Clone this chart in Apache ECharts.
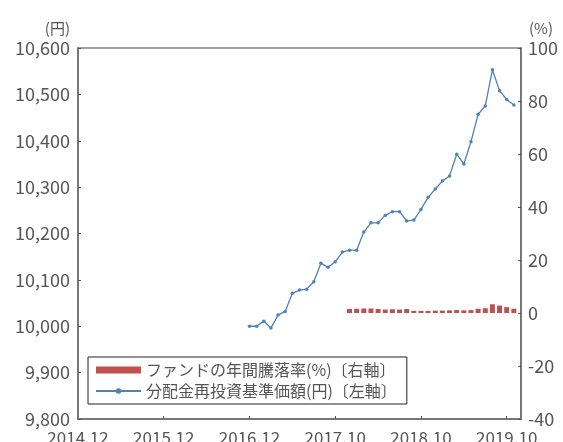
<!DOCTYPE html>
<html>
<head>
<meta charset="utf-8">
<script src="https://cdn.jsdelivr.net/npm/echarts@6/dist/echarts.min.js"></script>
<style>
html,body{margin:0;padding:0;background:#fff;}
#c{width:563px;height:442px;}
</style>
</head>
<body>
<div id="c"></div>
<script>
const months = [
 '2014.12','2015.01','2015.02','2015.03','2015.04','2015.05','2015.06','2015.07','2015.08','2015.09','2015.10','2015.11',
 '2015.12','2016.01','2016.02','2016.03','2016.04','2016.05','2016.06','2016.07','2016.08','2016.09','2016.10','2016.11',
 '2016.12','2017.01','2017.02','2017.03','2017.04','2017.05','2017.06','2017.07','2017.08','2017.09','2017.10','2017.11',
 '2017.12','2018.01','2018.02','2018.03','2018.04','2018.05','2018.06','2018.07','2018.08','2018.09','2018.10','2018.11',
 '2018.12','2019.01','2019.02','2019.03','2019.04','2019.05','2019.06','2019.07','2019.08','2019.09','2019.10','2019.11',
 '2019.12','2020.01','2020.02'
];
const tickLabels = ['2014.12','2015.12','2016.12','2017.10','2018.10','2019.10'];

// 分配金再投資基準価額 (円), left axis
const navValues = [
 '-','-','-','-','-','-','-','-','-','-','-','-',
 '-','-','-','-','-','-','-','-','-','-','-','-',
 10000,10000,10011,9996,10024,10032,10071,10078,10080,10096,10136,10127,
 10139,10160,10164,10164,10203,10223,10223,10239,10247,10247,10227,10229,
 10252,10278,10296,10313,10324,10371,10350,10398,10457,10475,10553,10508,
 10489,10477,'-'
];

// ファンドの年間騰落率 (%), right axis
const returnValues = [
 '-','-','-','-','-','-','-','-','-','-','-','-',
 '-','-','-','-','-','-','-','-','-','-','-','-',
 '-','-','-','-','-','-','-','-','-','-','-','-',
 '-','-',1.5,1.6,1.7,1.7,1.5,1.3,1.4,1.3,1.5,0.8,
 0.8,0.8,0.9,0.9,1.0,1.1,1.0,1.1,1.6,1.8,3.3,2.8,
 2.2,1.6,'-'
];

const FONT = '"Noto Sans CJK JP", "Noto Sans", sans-serif';
const TXT = '#555';

const chart = echarts.init(document.getElementById('c'));
chart.setOption({
  animation: false,
  textStyle: { fontFamily: FONT },
  grid: { left: 78, right: 42, top: 48, bottom: 23, containLabel: false, outerBoundsMode: 'none',
          show: true, borderColor: '#444', borderWidth: 1, backgroundColor: 'transparent' },
  legend: {
    orient: 'vertical',
    left: 88, top: 357,
    itemWidth: 45, itemHeight: 7, itemGap: 5,
    padding: [5, 10, 5, 7],
    borderColor: '#222', borderWidth: 1,
    textStyle: { fontFamily: FONT, fontSize: 16, color: TXT },
    data: [
      { name: 'ファンドの年間騰落率(%)〔右軸〕', icon: 'rect' },
      { name: '分配金再投資基準価額(円)〔左軸〕' }
    ]
  },
  xAxis: {
    type: 'category',
    data: months,
    boundaryGap: false,
    axisLine: { onZero: false, lineStyle: { color: '#777', width: 2 } },
    axisTick: { inside: true, length: 3, lineStyle: { color: '#555' }, interval: (i) => i % 12 === 0 && i > 0 },
    axisLabel: {
      interval: (i) => i % 12 === 0,
      formatter: (v, i) => tickLabels[Math.round(i / 12)],
      color: TXT, fontSize: 17, margin: 10, fontFamily: FONT
    },
    splitLine: { show: false }
  },
  yAxis: [
    {
      type: 'value', min: 9800, max: 10600, interval: 100,
      name: '(円)', nameGap: 12,
      nameTextStyle: { color: TXT, fontSize: 15, align: 'right', padding: [0, 8, 0, 0], fontFamily: FONT },
      axisLine: { show: true, lineStyle: { color: '#777', width: 2 } },
      axisTick: { show: true, inside: true, length: 3, lineStyle: { color: '#555' } },
      axisLabel: { color: TXT, fontSize: 18, margin: 8, fontFamily: FONT,
        formatter: (v) => String(v).replace(/\B(?=(\d{3})+(?!\d))/g, ',') },
      splitLine: { show: false }
    },
    {
      type: 'value', min: -40, max: 100, interval: 20,
      name: '(%)', nameGap: 12,
      nameTextStyle: { color: TXT, fontSize: 15, align: 'left', padding: [0, 0, 0, 8], fontFamily: FONT },
      axisLine: { show: true, lineStyle: { color: '#777', width: 2 } },
      axisTick: { show: true, inside: true, length: 3, lineStyle: { color: '#555' } },
      axisLabel: { color: TXT, fontSize: 18, margin: 7, fontFamily: FONT },
      splitLine: { show: false }
    }
  ],
  series: [
    {
      name: 'ファンドの年間騰落率(%)〔右軸〕',
      type: 'bar', yAxisIndex: 1,
      data: returnValues,
      barWidth: 5,
      itemStyle: { color: '#c0504d' }
    },
    {
      name: '分配金再投資基準価額(円)〔左軸〕',
      type: 'line', yAxisIndex: 0,
      data: navValues,
      symbol: 'circle', symbolSize: 3.5, showSymbol: true,
      lineStyle: { color: '#4f81bd', width: 1.3 },
      itemStyle: { color: '#4f81bd' }
    }
  ]
});
</script>
</body>
</html>
